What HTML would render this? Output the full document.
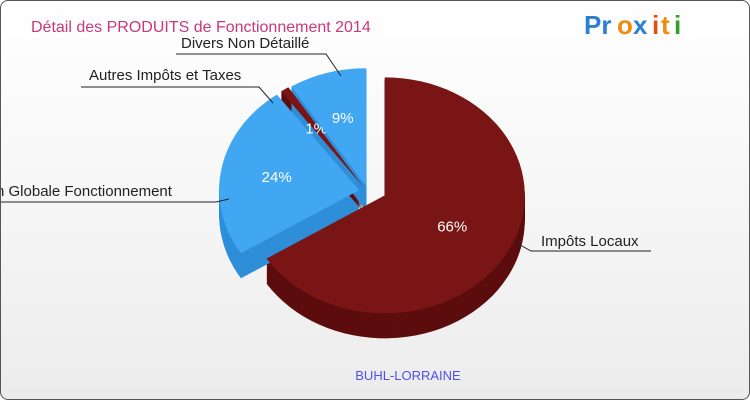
<!DOCTYPE html>
<html><head><meta charset="utf-8"><style>
body{margin:0;width:750px;height:400px;overflow:hidden;font-family:"Liberation Sans",sans-serif}
#wrap{position:absolute;left:0;top:0;width:748px;height:398px;border:1px solid #555;border-radius:8px;background:linear-gradient(#ffffff,#f8f8f8 40%,#ececec);overflow:hidden}
</style></head><body>
<div id="wrap">
<svg id="svg" width="750" height="400">
<text x="30" y="31" font-size="16" fill="#c8387c">Détail des PRODUITS de Fonctionnement 2014</text>
<g font-size="26" font-weight="bold">
<text x="583" y="33" fill="#2a7fd0">Pr</text><text x="616" y="33" fill="#f08a10">o</text><text x="632" y="33" fill="#2a7fd0">x</text><text x="651" y="33" fill="#e05010">i</text><text x="660" y="33" fill="#f08a10">t</text><text x="673" y="33" fill="#30a030">i</text>
</g>
<text x="407" y="379" font-size="13" fill="#5050f0" text-anchor="middle">BUHL-LORRAINE</text>
<g id="pie"></g>
<g font-size="15" fill="#222" stroke="#222">
<polyline points="512,240 530,250 650,250" fill="none" stroke-width="1"/>
<text x="540" y="245" stroke="none">Impôts Locaux</text>
<polyline points="228,198 215,201 0,201" fill="none"/>
<text x="-5" y="195" stroke="none">n Globale Fonctionnement</text>
<polyline points="80,86 258,86 272,102" fill="none"/>
<text x="88" y="79" stroke="none">Autres Impôts et Taxes</text>
<polyline points="175,53 325,53 340,75" fill="none"/>
<text x="180" y="47" stroke="none">Divers Non Détaillé</text>
</g>
</svg></div>
<script>
const categories=["Impôts Locaux","Dotation Globale Fonctionnement","Autres Impôts et Taxes","Divers Non Détaillé"];
const values=[66,24,1,9];
const pctLabels=["66%","24%","1%","9%"];
const NS="http://www.w3.org/2000/svg";
const pie=document.getElementById('pie');
const cx=368,cy=190,rx=140,ry=118,depth=25;
const tops=["#7a1515","#42a7f2","#7a1515","#42a7f2"];
const sides=["#5c0d0d","#2f8ed8","#5c0d0d","#2f8ed8"];
const total=values.reduce((a,b)=>a+b,0);
function pt(x,y,a){return [x+rx*Math.sin(a),y-ry*Math.cos(a)];}
function path(x,y,a0,a1){const p0=pt(x,y,a0),p1=pt(x,y,a1);const large=(a1-a0)>Math.PI?1:0;
return `M${x},${y}L${p0[0]},${p0[1]}A${rx},${ry} 0 ${large} 1 ${p1[0]},${p1[1]}Z`;}
let acc=0;const geo=[];
values.forEach((v,i)=>{const a0=acc/total*2*Math.PI;acc+=v;const a1=acc/total*2*Math.PI;const m=(a0+a1)/2;
const e=i==0?18:10;
geo.push({a0,a1,m,x:cx+e*Math.sin(m),y:cy-e*Math.cos(m)*0.5});});
geo.forEach((g,i)=>{for(let d=depth;d>=1;d--){const p=document.createElementNS(NS,'path');
p.setAttribute('d',path(g.x,g.y+d,g.a0,g.a1));p.setAttribute('fill',sides[i]);


pie.appendChild(p);}});
geo.forEach((g,i)=>{const p=document.createElementNS(NS,'path');
p.setAttribute('d',path(g.x,g.y,g.a0,g.a1));p.setAttribute('fill',tops[i]);


pie.appendChild(p);
const r=i==0?0.55:0.6;const t=document.createElementNS(NS,'text');
t.setAttribute('x',g.x+rx*r*Math.sin(g.m));t.setAttribute('y',g.y-ry*r*Math.cos(g.m)+5);
t.setAttribute('fill','#fff');t.setAttribute('font-size','15');t.setAttribute('text-anchor','middle');
t.textContent=pctLabels[i];


pie.appendChild(t);});
</script>
</body></html>
